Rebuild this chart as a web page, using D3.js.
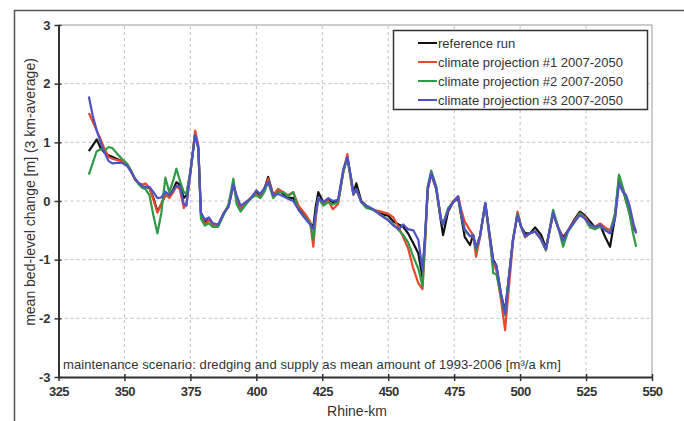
<!DOCTYPE html>
<html><head><meta charset="utf-8">
<script src="https://cdn.jsdelivr.net/npm/d3@7"></script>
<style>body{margin:0;background:#fff}svg{display:block}text{font-family:"Liberation Sans",Arial,sans-serif;fill:#333}</style>
</head><body><svg id="c" width="684" height="421"></svg>
<script>
const km = [336.5,338,339.5,341,342.5,344,345.5,347,349,351,352.5,354,355.5,357,358,359.5,361,362.5,364,365.5,367,368.5,369.7,371,372.5,373.5,375,376.8,378,379,380.5,382,383.5,385.5,387.5,389.5,391.3,392.5,394,396,398,400,401.5,403,404.5,406.4,408.3,410.2,412,414,416,418.5,420.4,421.6,422.5,423.5,425.4,427.3,429,431,433,434.5,436,436.8,437.9,439.8,441.7,444.3,447.3,450,452,454,455.7,457.5,459.5,461.4,463,464,465,466.3,468.2,470,470.8,472.7,474.6,476.5,477.7,479,481,482.2,483.3,484.8,486.8,488.6,489.8,491,492.8,494.3,495.5,497.3,499,500.4,501.9,503.8,505.7,508,509.8,512.5,514.4,516.3,518.2,520.8,522.7,524.6,526.5,528.4,530.3,532.2,534.1,536,537.5,539,540.2,541.6,542.8,544];
const referenceRun = [0.85,0.95,1.05,0.90,0.82,0.78,0.75,0.72,0.68,0.62,0.50,0.38,0.30,0.22,0.24,0.22,0.05,-0.18,-0.05,0.10,0.08,0.20,0.32,0.28,0.05,0.10,0.50,1.15,0.90,-0.20,-0.35,-0.30,-0.40,-0.42,-0.22,-0.08,0.28,0.05,-0.12,-0.04,0.05,0.15,0.07,0.20,0.41,0.10,0.20,0.12,0.06,0.05,-0.10,-0.25,-0.38,-0.44,-0.10,0.15,-0.02,0.02,-0.02,0.00,0.50,0.75,0.35,0.12,0.30,0.00,-0.08,-0.15,-0.22,-0.25,-0.35,-0.40,-0.44,-0.55,-0.72,-0.89,-1.30,-0.60,0.20,0.46,0.20,-0.35,-0.58,-0.18,-0.02,0.05,-0.27,-0.61,-0.75,-0.58,-0.80,-0.60,-0.04,-0.62,-1.00,-1.10,-1.60,-1.88,-1.40,-0.66,-0.22,-0.44,-0.55,-0.55,-0.45,-0.58,-0.80,-0.22,-0.45,-0.62,-0.50,-0.30,-0.18,-0.25,-0.35,-0.45,-0.40,-0.61,-0.78,-0.27,0.40,0.19,0.00,-0.22,-0.48,-0.50];
const projection1 = [1.50,1.35,1.20,1.05,0.88,0.75,0.72,0.70,0.68,0.62,0.52,0.36,0.30,0.28,0.30,0.22,0.02,-0.20,-0.05,0.12,0.05,0.15,0.25,0.20,-0.12,-0.05,0.45,1.20,0.95,-0.25,-0.40,-0.32,-0.40,-0.42,-0.22,-0.08,0.30,0.05,-0.12,-0.04,0.06,0.12,0.06,0.20,0.38,0.10,0.20,0.15,0.10,0.15,-0.08,-0.22,-0.35,-0.78,-0.30,0.05,-0.06,0.00,-0.14,-0.05,0.50,0.80,0.30,0.10,0.20,-0.02,-0.10,-0.15,-0.18,-0.22,-0.28,-0.45,-0.62,-0.80,-1.15,-1.40,-1.50,-0.70,0.22,0.45,0.22,-0.30,-0.38,-0.15,0.00,0.08,-0.15,-0.35,-0.50,-0.58,-0.95,-0.62,-0.05,-0.70,-1.06,-1.18,-1.70,-2.20,-1.60,-0.70,-0.18,-0.44,-0.62,-0.55,-0.52,-0.66,-0.84,-0.20,-0.44,-0.66,-0.50,-0.32,-0.21,-0.27,-0.41,-0.44,-0.38,-0.45,-0.50,-0.25,0.35,0.20,0.05,-0.15,-0.40,-0.55];
const projection2 = [0.45,0.65,0.85,0.88,0.86,0.92,0.90,0.82,0.72,0.64,0.52,0.38,0.28,0.22,0.20,0.10,-0.25,-0.55,-0.20,0.40,0.15,0.35,0.55,0.35,0.15,0.12,0.50,1.12,0.90,-0.30,-0.42,-0.38,-0.44,-0.44,-0.25,-0.05,0.38,-0.05,-0.18,-0.06,0.05,0.10,0.05,0.15,0.33,0.05,0.15,0.15,0.08,0.15,-0.15,-0.28,-0.38,-0.66,-0.25,0.05,-0.08,-0.02,-0.06,-0.02,0.52,0.72,0.35,0.12,0.20,-0.02,-0.12,-0.15,-0.24,-0.32,-0.40,-0.50,-0.58,-0.70,-0.95,-1.15,-1.45,-0.65,0.25,0.52,0.25,-0.30,-0.40,-0.12,-0.02,0.07,-0.25,-0.50,-0.60,-0.58,-0.85,-0.60,-0.04,-0.66,-1.23,-1.25,-1.62,-1.95,-1.40,-0.66,-0.22,-0.44,-0.60,-0.55,-0.52,-0.66,-0.84,-0.15,-0.44,-0.78,-0.52,-0.35,-0.21,-0.30,-0.45,-0.48,-0.44,-0.48,-0.55,-0.20,0.45,0.22,0.00,-0.25,-0.55,-0.78];
const projection3 = [1.78,1.45,1.20,1.00,0.82,0.68,0.64,0.65,0.65,0.60,0.50,0.38,0.30,0.25,0.24,0.24,0.15,0.05,0.06,0.16,0.10,0.18,0.26,0.25,-0.05,-0.08,0.50,1.12,0.92,-0.20,-0.32,-0.28,-0.38,-0.40,-0.22,-0.10,0.28,0.10,-0.08,-0.02,0.05,0.18,0.12,0.22,0.33,0.10,0.12,0.08,0.04,0.00,-0.15,-0.30,-0.40,-0.48,-0.20,0.05,-0.02,0.05,0.00,0.02,0.55,0.75,0.38,0.12,0.20,-0.02,-0.08,-0.14,-0.25,-0.33,-0.42,-0.48,-0.40,-0.48,-0.50,-0.66,-1.18,-0.55,0.24,0.48,0.22,-0.32,-0.40,-0.15,-0.02,0.08,-0.22,-0.48,-0.60,-0.58,-0.80,-0.60,-0.04,-0.64,-1.04,-1.10,-1.60,-1.91,-1.40,-0.66,-0.24,-0.44,-0.60,-0.55,-0.52,-0.66,-0.82,-0.20,-0.46,-0.68,-0.50,-0.34,-0.24,-0.30,-0.41,-0.44,-0.41,-0.50,-0.55,-0.30,0.30,0.15,0.10,-0.10,-0.35,-0.55];
const seriesNames = ["reference run","climate projection #1 2007-2050","climate projection #2 2007-2050","climate projection #3 2007-2050"];
const seriesColors = ["#111111","#e8482e","#2f9a45","#4f52c4"];
const xTicks = [325,350,375,400,425,450,475,500,525,550];
const yTicks = [-3,-2,-1,0,1,2,3];

const series = [referenceRun, projection1, projection2, projection3];
const svg = d3.select("#c");
const x = d3.scaleLinear().domain([325,550]).range([58.5,652]);
const y = d3.scaleLinear().domain([-3,3]).range([377,25]);
const fmt = d => String(d);

// outer frame
svg.append("rect").attr("x",14.5).attr("y",10.5).attr("width",720).attr("height",500)
  .attr("fill","none").attr("stroke","#555").attr("stroke-width",1.5);

// grid
const g = svg.append("g");
g.selectAll(".gy").data(yTicks.filter(d=>d>-3)).enter().append("line")
  .attr("x1",x(325)).attr("x2",x(550)).attr("y1",d=>y(d)).attr("y2",d=>y(d))
  .attr("stroke",d=>d===3?"#999":"#cbbcbc").attr("stroke-dasharray",d=>d===3?null:"3,3").attr("stroke-width",1);
g.selectAll(".gx").data(xTicks.filter(d=>d>325)).enter().append("line")
  .attr("y1",y(-3)).attr("y2",y(3)).attr("x1",d=>x(d)).attr("x2",d=>x(d))
  .attr("stroke",d=>d===550?"#999":"#cbbcbc").attr("stroke-dasharray",d=>d===550?null:"3,3").attr("stroke-width",1);

// lines
const line = d3.line().x((d,i)=>x(km[i])).y(d=>y(d)).curve(d3.curveLinear);
series.forEach((s,i)=>{
  svg.append("path").datum(s).attr("d",line).attr("fill","none")
    .attr("stroke",seriesColors[i]).attr("stroke-width",2.2).attr("stroke-linejoin","round");
});

// axes
const xAxis = d3.axisBottom(x).tickValues(xTicks).tickSize(4).tickSizeOuter(0).tickFormat(fmt);
const gx = svg.append("g").attr("transform",`translate(0,${y(-3)})`).call(xAxis);
gx.select(".domain").attr("stroke","#333").attr("stroke-width",2);
gx.selectAll(".tick line").attr("stroke","#333").attr("stroke-width",1.5).attr("y1",-3);
gx.selectAll("text").attr("font-size",13).attr("fill","#333").attr("dy","0.95em").attr("font-weight","bold").style("letter-spacing","-0.5px");

const yAxis = d3.axisLeft(y).tickValues(yTicks).tickSize(4).tickSizeOuter(0).tickFormat(fmt);
const gy = svg.append("g").attr("transform",`translate(${x(325)},0)`).call(yAxis);
gy.select(".domain").attr("stroke","#333").attr("stroke-width",2);
gy.selectAll(".tick line").attr("stroke","#333").attr("stroke-width",1.5).attr("x1",3);
gy.selectAll("text").attr("font-size",13).attr("fill","#333").attr("x",-8).attr("font-weight","bold");

// axis titles
svg.append("text").attr("x",357).attr("y",416).attr("text-anchor","middle").attr("font-size",14).text("Rhine-km");
svg.append("text").attr("transform","translate(35,192) rotate(-90)").attr("text-anchor","middle").attr("font-size",14)
  .text("mean bed-level change [m]  (3 km-average)");

// annotation
svg.append("text").attr("x",63).attr("y",369).attr("font-size",13).style("letter-spacing","0.1px")
  .text("maintenance scenario: dredging and supply as mean amount of 1993-2006 [m³/a km]");

// legend
const lg = svg.append("g");
lg.append("rect").attr("x",393.5).attr("y",30.5).attr("width",254).attr("height",79)
  .attr("fill","#fff").attr("stroke","#333").attr("stroke-width",1.5);
seriesNames.forEach((n,i)=>{
  const yy = 43 + i*19;
  lg.append("line").attr("x1",418).attr("x2",437).attr("y1",yy).attr("y2",yy).attr("stroke",seriesColors[i]).attr("stroke-width",2);
  lg.append("text").attr("x",438).attr("y",yy+4.5).attr("font-size",13).text(n);
});
</script></body></html>
